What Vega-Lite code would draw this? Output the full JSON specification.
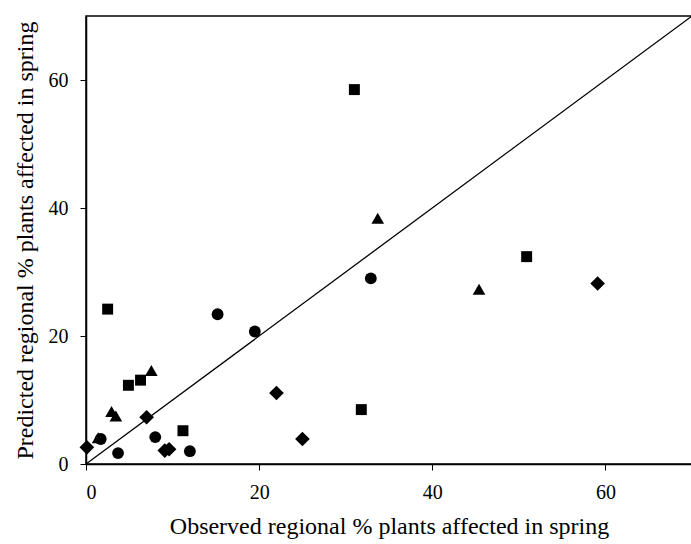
{
  "$schema": "https://vega.github.io/schema/vega-lite/v6.json",
  "autosize": {"type": "none"},
  "padding": {"left": 86, "top": 16, "right": 0, "bottom": 80},
  "width": 606,
  "height": 448,
  "background": "white",
  "config": {
    "view": {"stroke": "black", "strokeWidth": 1.5},
    "font": "Liberation Serif",
    "axis": {
      "grid": false,
      "domainColor": "black",
      "domainWidth": 1.5,
      "tickColor": "black",
      "tickSize": 6,
      "labelFont": "Liberation Serif",
      "labelFontSize": 20,
      "labelColor": "black",
      "titleFont": "Liberation Serif",
      "titleFontSize": 24,
      "titleFontWeight": "normal",
      "titleColor": "black"
    }
  },
  "layer": [
    {
      "data": {"values": [{"x": 0, "y": 0}, {"x": 70, "y": 70}]},
      "mark": {"type": "line", "color": "black", "strokeWidth": 1.3},
      "encoding": {
        "x": {"field": "x", "type": "quantitative"},
        "y": {"field": "y", "type": "quantitative"}
      }
    },
    {
      "data": {"values": [
        {"group": "diamond", "obs": 0.1, "pred": 2.6},
        {"group": "diamond", "obs": 7.0, "pred": 7.3},
        {"group": "diamond", "obs": 9.1, "pred": 2.1},
        {"group": "diamond", "obs": 9.6, "pred": 2.3},
        {"group": "diamond", "obs": 22.0, "pred": 11.1},
        {"group": "diamond", "obs": 25.0, "pred": 3.9},
        {"group": "diamond", "obs": 59.1, "pred": 28.2},
        {"group": "square", "obs": 2.5, "pred": 24.2},
        {"group": "square", "obs": 4.9, "pred": 12.3},
        {"group": "square", "obs": 6.3, "pred": 13.1},
        {"group": "square", "obs": 11.2, "pred": 5.2},
        {"group": "square", "obs": 31.0, "pred": 58.5},
        {"group": "square", "obs": 31.8, "pred": 8.5},
        {"group": "square", "obs": 50.9, "pred": 32.4},
        {"group": "triangle", "obs": 1.4, "pred": 4.1},
        {"group": "triangle", "obs": 2.95, "pred": 8.2},
        {"group": "triangle", "obs": 3.45, "pred": 7.5},
        {"group": "triangle", "obs": 7.55, "pred": 14.6},
        {"group": "triangle", "obs": 33.7, "pred": 38.4},
        {"group": "triangle", "obs": 45.4, "pred": 27.3},
        {"group": "circle", "obs": 1.7, "pred": 3.9},
        {"group": "circle", "obs": 3.7, "pred": 1.7},
        {"group": "circle", "obs": 8.0, "pred": 4.2},
        {"group": "circle", "obs": 12.0, "pred": 2.0},
        {"group": "circle", "obs": 15.2, "pred": 23.4},
        {"group": "circle", "obs": 19.5, "pred": 20.7},
        {"group": "circle", "obs": 32.9, "pred": 29.0}
      ]},
      "mark": {"type": "point", "filled": true, "color": "black", "opacity": 1},
      "encoding": {
        "x": {"field": "obs", "type": "quantitative", "scale": {"domain": [0, 70], "nice": false, "zero": true},
              "axis": {"values": [0, 20, 40, 60], "title": "Observed regional % plants affected in spring", "labelPadding": 12, "titlePadding": 12}},
        "y": {"field": "pred", "type": "quantitative", "scale": {"domain": [0, 70], "nice": false},
              "axis": {"values": [0, 20, 40, 60], "title": "Predicted regional % plants affected in spring", "labelPadding": 12, "titlePadding": 11}},
        "shape": {"field": "group", "type": "nominal",
                  "scale": {"domain": ["diamond", "square", "triangle", "circle"], "range": ["diamond", "square", "triangle-up", "circle"]},
                  "legend": null},
        "size": {"field": "group", "type": "nominal",
                 "scale": {"type": "ordinal", "domain": ["diamond", "square", "triangle", "circle"], "range": [215, 120, 160, 140]},
                 "legend": null}
      }
    }
  ]
}
